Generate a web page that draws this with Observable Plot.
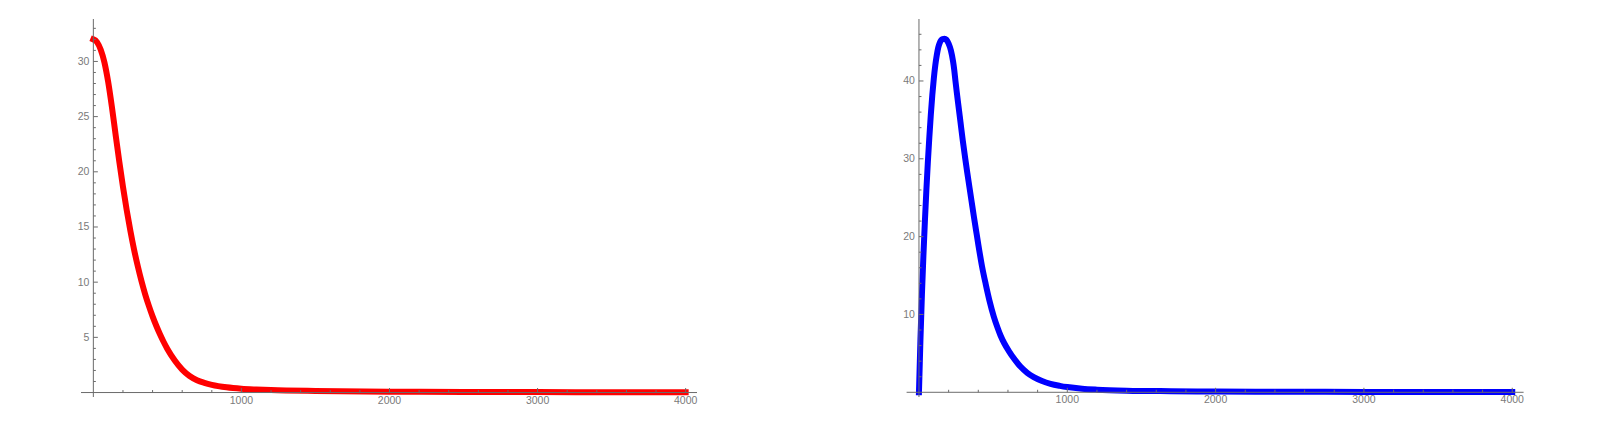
<!DOCTYPE html>
<html>
<head>
<meta charset="utf-8">
<script src="https://cdn.jsdelivr.net/npm/d3@7"></script>
<script src="https://cdn.jsdelivr.net/npm/@observablehq/plot@0.6"></script>
<style>
  html, body { margin: 0; padding: 0; background: #fff; }
  #wrap { display: flex; width: 1600px; height: 427px; }
  #wrap > div { width: 800px; height: 427px; }
</style>
</head>
<body>
<div id="wrap"><div id="left"></div><div id="right"></div></div>
<script>
// ---- Data ----
const redX = [0, 25, 50, 75, 100, 125, 150, 175, 200, 225, 250, 275, 300, 325, 350, 375, 400, 425, 450, 475, 500, 550, 600, 650, 700, 750, 800, 900, 1000, 1100, 1200, 1500, 2000, 2500, 3000, 3500, 4000];
const redY = [32.0, 31.75, 31.05, 29.9, 28.15, 25.9, 23.4, 20.95, 18.65, 16.55, 14.65, 12.95, 11.45, 10.1, 8.9, 7.85, 6.9, 6.05, 5.28, 4.58, 3.95, 2.9, 2.08, 1.5, 1.12, 0.88, 0.7, 0.47, 0.34, 0.27, 0.22, 0.14, 0.08, 0.055, 0.04, 0.03, 0.02];

const blueX = [0, 10, 20, 30, 40, 50, 60, 70, 80, 90, 100, 110, 120, 130, 140, 150, 160, 172, 185, 200, 215, 230, 238, 246, 254, 265, 280, 295, 310, 325, 340, 355, 370, 385, 400, 425, 450, 475, 505, 530, 550, 575, 606, 650, 684, 730, 774, 830, 887, 950, 1000, 1100, 1200, 1400, 1700, 2000, 2500, 3000, 3500, 4000];
const blueY = [0, 6.8, 12.6, 17.6, 22.0, 26.0, 29.6, 32.8, 35.7, 38.2, 40.3, 42.0, 43.3, 44.3, 44.9, 45.25, 45.38, 45.42, 45.3, 44.8, 43.95, 42.5, 41.4, 40.0, 38.7, 37.0, 34.7, 32.4, 30.3, 28.3, 26.4, 24.5, 22.6, 20.8, 19.0, 16.2, 13.9, 11.8, 9.7, 8.3, 7.3, 6.3, 5.3, 4.1, 3.3, 2.5, 1.95, 1.45, 1.09, 0.83, 0.67, 0.46, 0.34, 0.21, 0.14, 0.1, 0.07, 0.05, 0.04, 0.03];

const xMajor = [1000, 2000, 3000, 4000];
const xMinor = [200, 400, 600, 800, 1200, 1400, 1600, 1800, 2200, 2400, 2600, 2800, 3200, 3400, 3600, 3800];
const leftYMajor = [5, 10, 15, 20, 25, 30];
const leftYMinor = [1, 2, 3, 4, 6, 7, 8, 9, 11, 12, 13, 14, 16, 17, 18, 19, 21, 22, 23, 24, 26, 27, 28, 29, 31, 32, 33];
const rightYMajor = [10, 20, 30, 40];
const rightYMinor = [2, 4, 6, 8, 12, 14, 16, 18, 22, 24, 26, 28, 32, 34, 36, 38, 42, 44, 46];

// ---- Helpers ----
const axisColor = "#6b6b6b";
const labelColor = "#7a7a7a";
const font = "'Liberation Sans', Arial, sans-serif";

function tickRight(len) { return {draw(ctx) { ctx.moveTo(0, 0); ctx.lineTo(len, 0); }}; }
function tickUp(len) { return {draw(ctx) { ctx.moveTo(0, 0); ctx.lineTo(0, -len); }}; }

function panel({xs, ys, color, yDomain, yMajor, yMinor, marginLeft, marginRight}) {
  const data = xs.map((x, i) => ({x, y: ys[i]}));
  return Plot.plot({
    width: 800,
    height: 427,
    marginLeft, marginRight,
    marginTop: 19,
    marginBottom: 30,
    style: {fontFamily: font, background: "#fff"},
    x: {domain: [-80, 4080], axis: null},
    y: {domain: yDomain, axis: null},
    marks: [
      Plot.line(data, {x: "x", y: "y", stroke: color, strokeWidth: 6, curve: "monotone-x", strokeLinecap: "square", strokeLinejoin: "round"}),
      Plot.ruleY([0], {stroke: axisColor, strokeWidth: 1}),
      Plot.ruleX([0], {stroke: axisColor, strokeWidth: 1}),
      Plot.dot(xMajor, {x: d => d, y: 0, symbol: tickUp(4.5), r: 1, stroke: axisColor, fill: "none", strokeWidth: 1}),
      Plot.dot(xMinor, {x: d => d, y: 0, symbol: tickUp(2.5), r: 1, stroke: axisColor, fill: "none", strokeWidth: 1}),
      Plot.dot(yMajor, {x: 0, y: d => d, symbol: tickRight(4.5), r: 1, stroke: axisColor, fill: "none", strokeWidth: 1}),
      Plot.dot(yMinor, {x: 0, y: d => d, symbol: tickRight(2.5), r: 1, stroke: axisColor, fill: "none", strokeWidth: 1}),
      Plot.text(yMajor, {x: 0, y: d => d, text: d => String(d), dx: -4, textAnchor: "end", fill: labelColor, fontSize: 10.5}),
      Plot.text(xMajor, {x: d => d, y: 0, text: d => String(d), dy: 3.5, lineAnchor: "top", fill: labelColor, fontSize: 10.5})
    ]
  });
}

document.getElementById("left").appendChild(panel({
  xs: redX, ys: redY, color: "#ff0000",
  yDomain: [-0.45, 33.8], yMajor: leftYMajor, yMinor: leftYMinor,
  marginLeft: 81, marginRight: 103
}));
document.getElementById("right").appendChild(panel({
  xs: blueX, ys: blueY, color: "#0000ff",
  yDomain: [-0.67, 47.9], yMajor: rightYMajor, yMinor: rightYMinor,
  marginLeft: 106.6, marginRight: 76.4
}));
</script>
</body>
</html>
